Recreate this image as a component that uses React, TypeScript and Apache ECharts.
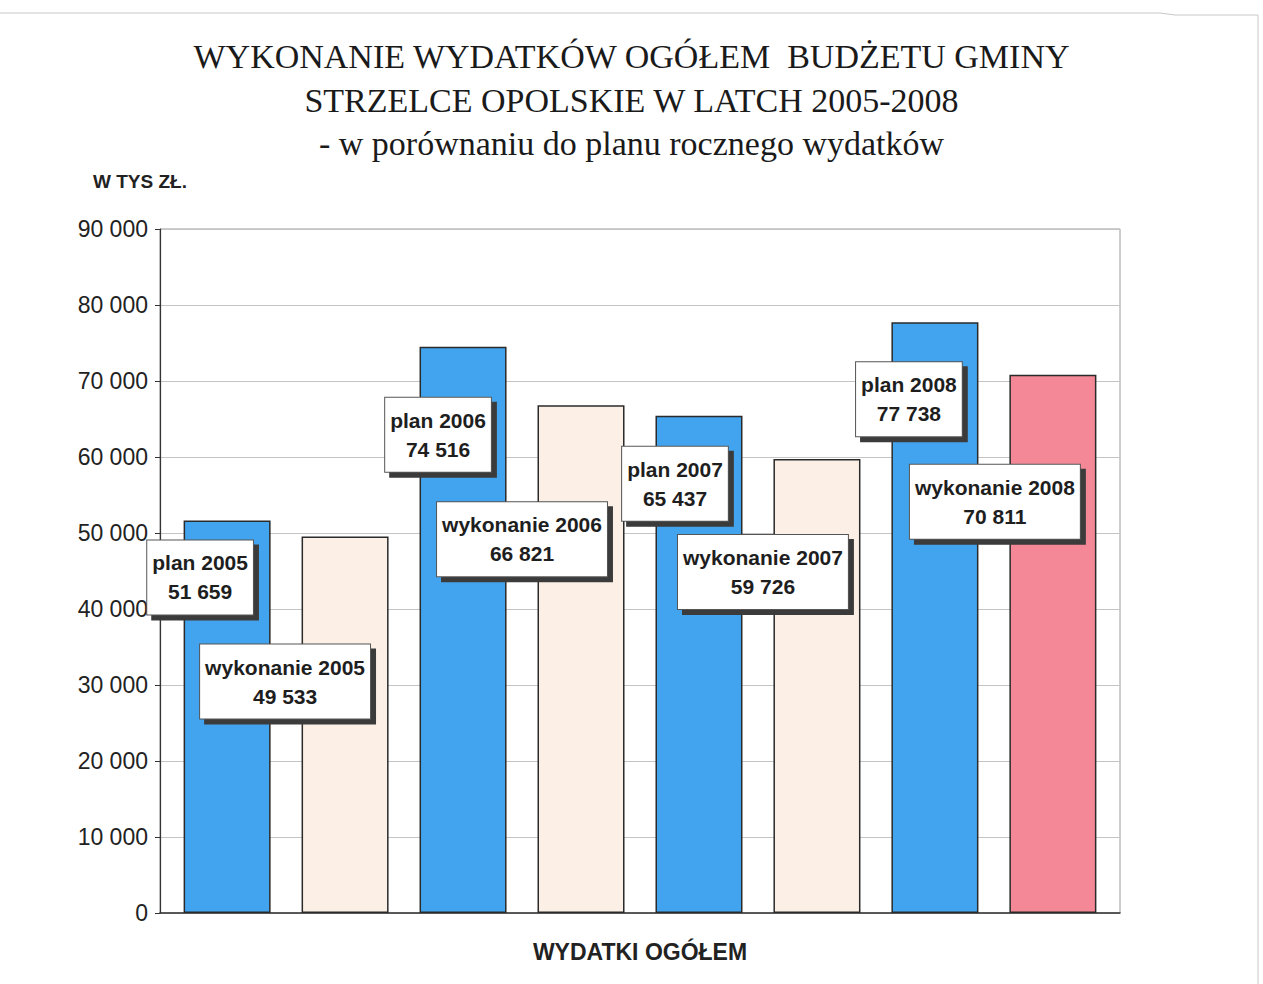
import React, { useEffect, useRef } from "react";
import * as echarts from "echarts";

const seriesNames = [
  "plan 2005",
  "wykonanie 2005",
  "plan 2006",
  "wykonanie 2006",
  "plan 2007",
  "wykonanie 2007",
  "plan 2008",
  "wykonanie 2008",
];
const seriesValues = [51659, 49533, 74516, 66821, 65437, 59726, 77738, 70811];
const category = ["WYDATKI OGÓŁEM"];
const titleLines = [
  "WYKONANIE WYDATKÓW OGÓŁEM  BUDŻETU GMINY",
  "STRZELCE OPOLSKIE W LATCH 2005-2008",
  "- w porównaniu do planu rocznego wydatków",
];
const unitLabel = "W TYS ZŁ.";

const barColors = ["#42a4ee", "#fcf0e6", "#42a4ee", "#fcf0e6", "#42a4ee", "#fcf0e6", "#42a4ee", "#f48896"];
// label box offsets relative to the bar's top-centre (layout only)
const labelOffsets: [number, number][] = [
  [-27, 20],
  [-60, 108],
  [-25, 51],
  [-59, 97],
  [-24, 31],
  [-54, 76],
  [-26, 40],
  [-58, 90],
];

const fmt = (v: number) => String(v).replace(/\B(?=(\d{3})+(?!\d))/g, " ");

export default function App() {
  const ref = useRef<HTMLDivElement>(null);
  useEffect(() => {
    if (!ref.current) return;
    const chart = echarts.init(ref.current, null, { renderer: "svg" });
    chart.setOption({
      animation: false,
      backgroundColor: "#ffffff",
      title: [
        {
          text: titleLines[0] + "\n" + titleLines[1],
          left: "center",
          top: 29,
          textStyle: {
            fontFamily: "Liberation Serif",
            fontSize: 34,
            fontWeight: "normal",
            color: "#1a1a1a",
            lineHeight: 44,
          },
        },
        {
          text: titleLines[2],
          left: "center",
          top: 121,
          textStyle: {
            fontFamily: "Liberation Serif",
            fontSize: 34,
            fontWeight: "normal",
            color: "#1a1a1a",
          },
        },
      ],
      graphic: [
        {
          type: "text",
          left: 93,
          top: 172,
          style: { text: unitLabel, font: "bold 19px 'Liberation Sans'", fill: "#222" },
        },
        {
          type: "polyline",
          shape: { points: [[0, 13], [1160, 13], [1175, 15], [1258, 15], [1258, 984]] },
          style: { stroke: "#c8c8c8", lineWidth: 1, fill: "none" },
          silent: true,
        },
      ],
      grid: {
        left: 160,
        right: 143,
        top: 229,
        bottom: 71,
        show: true,
        borderColor: "#9a9a9a",
        borderWidth: 1,
      },
      xAxis: {
        type: "category",
        data: category,
        name: category[0],
        nameLocation: "middle",
        nameGap: 27,
        nameTextStyle: { fontFamily: "Liberation Sans", fontSize: 23, fontWeight: "bold", color: "#222" },
        axisLabel: { show: false },
        axisTick: { show: false },
        axisLine: { lineStyle: { color: "#333", width: 1.5 } },
      },
      yAxis: {
        type: "value",
        min: 0,
        max: 90000,
        interval: 10000,
        axisLine: { show: true, lineStyle: { color: "#333", width: 1.2 } },
        axisTick: { show: true, length: 5, lineStyle: { color: "#333" } },
        axisLabel: {
          formatter: (v: number) => fmt(v),
          fontFamily: "Liberation Sans",
          fontSize: 23,
          color: "#222",
          margin: 12,
        },
        splitLine: { lineStyle: { color: "#c4c4c4", width: 1 } },
      },
      series: seriesNames.map((name, i) => ({
        type: "bar",
        name,
        data: [seriesValues[i]],
        barWidth: 87,
        barGap: "35.6%",
        itemStyle: { color: barColors[i], borderColor: "#2a2a2a", borderWidth: 1.5 },
        z: 2,
        label: {
          show: true,
          position: "insideTop",
          distance: 0,
          offset: labelOffsets[i],
          formatter: () => name + "\n" + fmt(seriesValues[i]),
          fontFamily: "Liberation Sans",
          fontWeight: "bold",
          fontSize: 21,
          lineHeight: 29,
          color: "#1e1e1e",
          align: "center",
          backgroundColor: "#ffffff",
          borderColor: "#555",
          borderWidth: 1,
          padding: [8, 5, 8, 5],
          shadowColor: "#3a3a3a",
          shadowOffsetX: 5,
          shadowOffsetY: 5,
          shadowBlur: 0,
        },
      })),
    });
    return () => chart.dispose();
  }, []);
  return (
    <div
      ref={ref}
      style={{ position: "fixed", left: 0, top: 0, width: 1263, height: 984 }}
    />
  );
}
